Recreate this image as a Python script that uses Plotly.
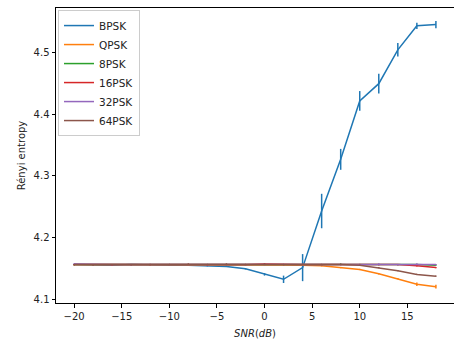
import plotly.graph_objects as go

snr = [-20, -18, -16, -14, -12, -10, -8, -6, -4, -2, 0, 2, 4, 6, 8, 10, 12, 14, 16, 18]

bpsk = [4.156, 4.155, 4.155, 4.156, 4.155, 4.155, 4.155, 4.154, 4.153, 4.149, 4.140, 4.132, 4.151,
        4.243, 4.327, 4.422, 4.450, 4.505, 4.544, 4.546]
bpsk_err = [0.001, 0.001, 0.001, 0.001, 0.001, 0.001, 0.001, 0.001, 0.001, 0.001, 0.002, 0.006, 0.022,
            0.028, 0.017, 0.016, 0.016, 0.011, 0.005, 0.006]

qpsk = [4.156, 4.156, 4.155, 4.156, 4.155, 4.156, 4.155, 4.156, 4.156, 4.156, 4.156, 4.155, 4.155,
        4.154, 4.151, 4.148, 4.141, 4.133, 4.124, 4.120]
qpsk_err = [0.001] * 16 + [0.001, 0.001, 0.003, 0.003]

psk8 = [4.156, 4.156, 4.156, 4.156, 4.156, 4.156, 4.156, 4.156, 4.156, 4.156, 4.156, 4.156, 4.156,
        4.156, 4.157, 4.156, 4.156, 4.156, 4.156, 4.155]
psk8_err = [0.001] * 20

psk16 = [4.156, 4.156, 4.155, 4.156, 4.156, 4.156, 4.156, 4.155, 4.156, 4.156, 4.157, 4.156, 4.156,
         4.156, 4.156, 4.156, 4.156, 4.156, 4.154, 4.151]
psk16_err = [0.001] * 20

psk32 = [4.157, 4.156, 4.156, 4.156, 4.156, 4.156, 4.156, 4.156, 4.156, 4.156, 4.156, 4.156, 4.156,
         4.156, 4.156, 4.156, 4.157, 4.156, 4.157, 4.156]
psk32_err = [0.001] * 20

psk64 = [4.156, 4.156, 4.156, 4.156, 4.156, 4.156, 4.157, 4.156, 4.157, 4.156, 4.157, 4.156, 4.156,
         4.156, 4.156, 4.155, 4.151, 4.146, 4.140, 4.137]
psk64_err = [0.001] * 20

series = [
    ("BPSK", bpsk, bpsk_err, "#1f77b4"),
    ("QPSK", qpsk, qpsk_err, "#ff7f0e"),
    ("8PSK", psk8, psk8_err, "#2ca02c"),
    ("16PSK", psk16, psk16_err, "#d62728"),
    ("32PSK", psk32, psk32_err, "#9467bd"),
    ("64PSK", psk64, psk64_err, "#8c564b"),
]

x_ticks = [-20, -15, -10, -5, 0, 5, 10, 15]
y_ticks = [4.1, 4.2, 4.3, 4.4, 4.5]

fig = go.Figure()
for name, vals, errs, color in series:
    fig.add_trace(go.Scatter(
        x=snr, y=vals, name=name, mode="lines",
        line=dict(color=color, width=1.5),
        error_y=dict(type="data", array=errs, visible=True, color=color, thickness=1.5, width=0),
    ))

axis_common = dict(
    showline=True, linecolor="black", linewidth=1, mirror=True,
    ticks="outside", ticklen=3.5, tickwidth=1, tickcolor="black",
    showgrid=False, zeroline=False, automargin=False,
    tickfont=dict(family="DejaVu Sans", size=10, color="#222"),
)

fig.update_layout(
    width=454, height=341,
    margin=dict(l=56, r=0, t=8, b=38),
    plot_bgcolor="white", paper_bgcolor="white",
    font=dict(family="DejaVu Sans", size=10, color="#222"),
    xaxis=dict(range=[-21.9, 19.9], tickvals=x_ticks,
               title=dict(text="<i>SNR</i>(<i>dB</i>)", font=dict(size=10), standoff=9),
               **axis_common),
    yaxis=dict(range=[4.0935, 4.573], tickvals=y_ticks, tickformat=".1f",
               title=dict(text="Rényi entropy", font=dict(size=10), standoff=6),
               **axis_common),
    legend=dict(x=0.005, y=0.993, xanchor="left", yanchor="top",
                bgcolor="rgba(255,255,255,0.8)", bordercolor="#ccc", borderwidth=1,
                font=dict(size=10.5), tracegroupgap=0, itemwidth=30),
    showlegend=True,
)

fig.write_html("out.html", config={"displayModeBar": False},
               post_script="document.body.style.margin='0';")
